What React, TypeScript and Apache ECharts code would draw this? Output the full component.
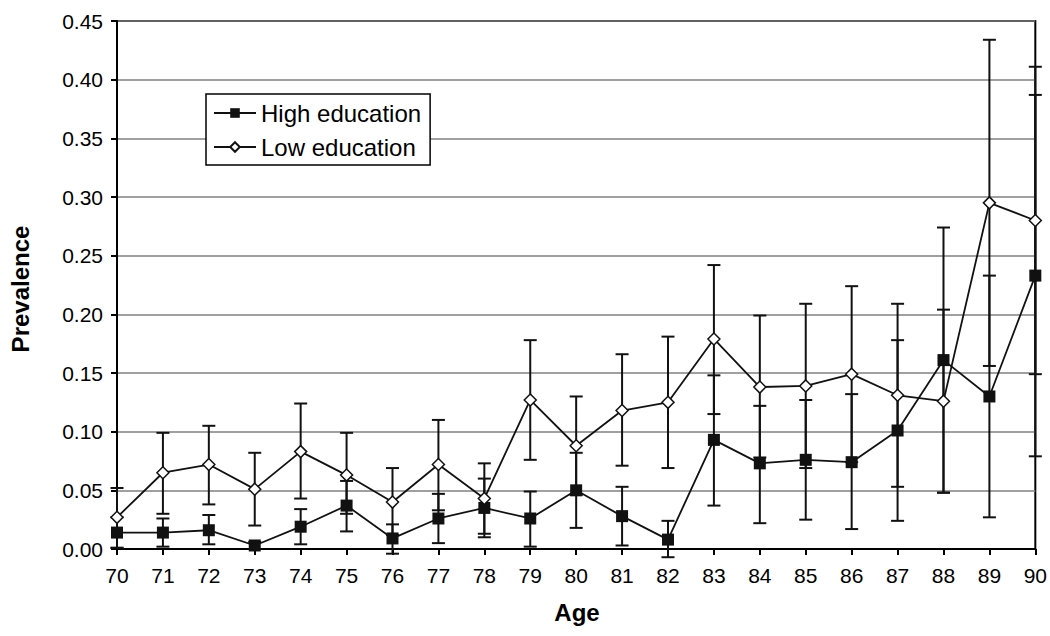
import React, { useEffect, useRef } from "react";
import * as echarts from "echarts";

const ages = ["70","71","72","73","74","75","76","77","78","79","80","81","82","83","84","85","86","87","88","89","90"];

const highEdu = [0.014, 0.014, 0.016, 0.003, 0.019, 0.037, 0.009, 0.026, 0.035, 0.026, 0.050, 0.028, 0.008, 0.093, 0.073, 0.076, 0.074, 0.101, 0.161, 0.130, 0.233];
const highLo = [0.001, 0.002, 0.004, 0.000, 0.004, 0.015, -0.004, 0.005, 0.010, 0.002, 0.018, 0.003, -0.007, 0.037, 0.022, 0.025, 0.017, 0.024, 0.048, 0.027, 0.079];
const highHi = [0.027, 0.026, 0.029, 0.006, 0.034, 0.058, 0.021, 0.047, 0.060, 0.049, 0.082, 0.053, 0.024, 0.148, 0.122, 0.127, 0.132, 0.178, 0.274, 0.233, 0.387];

const lowEdu = [0.027, 0.065, 0.072, 0.051, 0.083, 0.063, 0.040, 0.072, 0.043, 0.127, 0.088, 0.118, 0.125, 0.179, 0.138, 0.139, 0.149, 0.131, 0.126, 0.295, 0.280];
const lowLo = [0.001, 0.030, 0.038, 0.020, 0.043, 0.030, 0.012, 0.033, 0.013, 0.076, 0.046, 0.071, 0.069, 0.115, 0.078, 0.069, 0.074, 0.053, 0.048, 0.156, 0.149];
const lowHi = [0.052, 0.099, 0.105, 0.082, 0.124, 0.099, 0.069, 0.110, 0.073, 0.178, 0.130, 0.166, 0.181, 0.242, 0.199, 0.209, 0.224, 0.209, 0.204, 0.434, 0.411];

const yTicks = { min: 0, max: 0.45, interval: 0.05 };

const FONT = "'Liberation Sans', Arial, sans-serif";

function errorSeries(name: string, lo: number[], hi: number[]) {
  return {
    type: "custom",
    name,
    z: 1,
    clip: false,
    silent: true,
    data: lo.map((l, i) => [i, l, hi[i]]),
    encode: { x: 0, y: [1, 2] },
    renderItem: (params: any, api: any) => {
      const i = api.value(0);
      const pLo = api.coord([i, api.value(1)]);
      const pHi = api.coord([i, api.value(2)]);
      const hw = 6.5;
      const style = { stroke: "#111", lineWidth: 2 };
      return {
        type: "group",
        children: [
          { type: "line", shape: { x1: pLo[0], y1: pLo[1], x2: pHi[0], y2: pHi[1] }, style },
          { type: "line", shape: { x1: pLo[0] - hw, y1: pLo[1], x2: pLo[0] + hw, y2: pLo[1] }, style },
          { type: "line", shape: { x1: pHi[0] - hw, y1: pHi[1], x2: pHi[0] + hw, y2: pHi[1] }, style },
        ],
      };
    },
  };
}

export default function App() {
  const ref = useRef<HTMLDivElement>(null);
  useEffect(() => {
    if (!ref.current) return;
    const chart = echarts.init(ref.current, null, { renderer: "svg" });
    chart.setOption({
      animation: false,
      backgroundColor: "#fff",
      textStyle: { fontFamily: FONT },
      grid: {
        left: 117,
        right: 14,
        top: 21,
        bottom: 87,
        show: true,
        borderColor: "#000",
        borderWidth: 2,
      },
      legend: {
        data: ["High education", "Low education"],
        orient: "vertical",
        left: 206,
        top: 94,
        backgroundColor: "#fff",
        borderColor: "#000",
        borderWidth: 1.5,
        borderRadius: 0,
        padding: [7, 9, 6, 7],
        itemGap: 10,
        itemWidth: 42,
        itemHeight: 12,
        textStyle: { fontFamily: FONT, fontSize: 24, color: "#000" },
      },
      xAxis: {
        type: "category",
        data: ages,
        boundaryGap: false,
        axisLine: { lineStyle: { color: "#000", width: 2 } },
        axisTick: { show: true, length: 6, lineStyle: { color: "#000", width: 2 }, alignWithLabel: true },
        axisLabel: { color: "#000", fontSize: 21, fontFamily: FONT, margin: 16 },
        splitLine: { show: false },
      },
      yAxis: {
        type: "value",
        min: yTicks.min,
        max: yTicks.max,
        interval: yTicks.interval,
        axisLine: { show: true, lineStyle: { color: "#000", width: 2 } },
        axisTick: { show: true, length: 6, lineStyle: { color: "#000", width: 2 } },
        axisLabel: {
          color: "#000",
          fontSize: 21,
          fontFamily: FONT,
          margin: 14,
          formatter: (v: number) => v.toFixed(2),
        },
        splitLine: { show: true, lineStyle: { color: "#808080", width: 1.5 } },
      },
      graphic: [
        {
          type: "text",
          x: 20,
          y: 289,
          rotation: Math.PI / 2,
          style: {
            text: "Prevalence",
            font: `bold 24px ${FONT}`,
            fill: "#000",
            textAlign: "center",
            textVerticalAlign: "middle",
          },
        },
        {
          type: "text",
          x: 577,
          y: 612,
          style: {
            text: "Age",
            font: `bold 24px ${FONT}`,
            fill: "#000",
            textAlign: "center",
            textVerticalAlign: "middle",
          },
        },
      ],
      series: [
        errorSeries("High err", highLo, highHi),
        errorSeries("Low err", lowLo, lowHi),
        {
          name: "High education",
          type: "line",
          data: highEdu,
          z: 3,
          symbol: "rect",
          symbolSize: 12,
          showAllSymbol: true,
          lineStyle: { color: "#111", width: 1.8 },
          itemStyle: { color: "#111", borderColor: "#111", borderWidth: 0 },
        },
        {
          name: "Low education",
          type: "line",
          data: lowEdu,
          z: 3,
          symbol: "diamond",
          symbolSize: 12,
          showAllSymbol: true,
          lineStyle: { color: "#111", width: 1.8 },
          itemStyle: { color: "#fff", borderColor: "#111", borderWidth: 1.5 },
        },
      ],
    });
    return () => chart.dispose();
  }, []);
  return (
    <div
      ref={ref}
      style={{ position: "fixed", left: 0, top: 0, width: 1050, height: 636, background: "#fff" }}
    />
  );
}
